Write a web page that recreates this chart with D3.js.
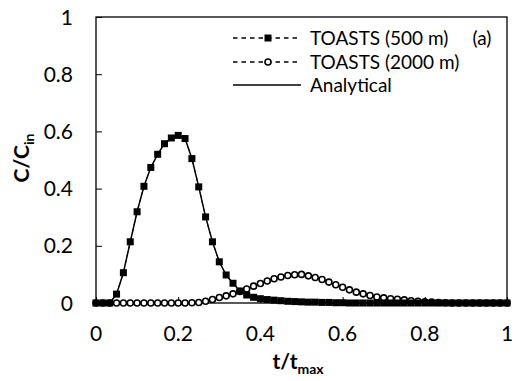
<!DOCTYPE html>
<html>
<head>
<meta charset="utf-8">
<script src="https://cdn.jsdelivr.net/npm/d3@7"></script>
<style>
  body { margin: 0; background: #fff; }
  text { font-family: Lato, "Open Sans", sans-serif; fill: #000; }
</style>
</head>
<body>
<div id="chart"></div>
<script>
// t/tmax sampled every 1/60
const tValues = d3.range(61).map(k => k / 60);

// TOASTS 500 m (squares)
const toasts500 = [0, 0, 0, 0.031, 0.106, 0.214, 0.319, 0.408, 0.474, 0.520,
    0.557, 0.577, 0.586, 0.575, 0.505, 0.406, 0.301, 0.214, 0.144, 0.098,
    0.069, 0.042, 0.028, 0.020, 0.015, 0.012, 0.010, 0.008, 0.006, 0.005,
    0.004, 0.003, 0.003, 0.002, 0.002, 0.001, 0.001, 0, 0, 0,
    0, 0, 0, 0, 0, 0, 0, 0, 0, 0,
    0, 0, 0, 0, 0, 0, 0, 0, 0, 0, 0];

// TOASTS 2000 m (circles)
const toasts2000 = [0, 0, 0, 0, 0, 0, 0, 0, 0, 0,
    0, 0, 0, 0, 0.001, 0.002, 0.006, 0.012, 0.019, 0.025,
    0.032, 0.040, 0.049, 0.059, 0.068, 0.077, 0.085, 0.091, 0.096, 0.099,
    0.100, 0.095, 0.089, 0.082, 0.073, 0.064, 0.055, 0.046, 0.038, 0.032,
    0.026, 0.021, 0.018, 0.015, 0.013, 0.011, 0.008, 0.006, 0.004, 0.003,
    0.002, 0.001, 0, 0, 0, 0, 0, 0, 0, 0, 0];

// analytical solutions (coincide with the TOASTS results)
const analytical500 = toasts500.slice();
const analytical2000 = toasts2000.slice();

const xTicks = [0, 0.2, 0.4, 0.6, 0.8, 1];
const yTicks = [0, 0.2, 0.4, 0.6, 0.8, 1];
const legendLabels = ["TOASTS (500 m)", "TOASTS (2000 m)", "Analytical"];

const W = 516, H = 381;
const margin = {top: 17, right: 9, bottom: 78, left: 96};

const svg = d3.select("#chart").append("svg")
    .attr("width", W)
    .attr("height", H);

const x = d3.scaleLinear().domain([0, 1]).range([margin.left, W - margin.right]);
const y = d3.scaleLinear().domain([0, 1]).range([H - margin.bottom, margin.top]);

// frame
svg.append("rect")
    .attr("x", x(0)).attr("y", y(1))
    .attr("width", x(1) - x(0)).attr("height", y(0) - y(1))
    .attr("fill", "none").attr("stroke", "#000").attr("stroke-width", 1.3);

// axes with inner ticks
const xAxis = svg.append("g")
    .attr("transform", `translate(0,${y(0)})`)
    .call(d3.axisTop(x).tickValues(xTicks).tickSize(6).tickFormat(""));
xAxis.select(".domain").remove();

const yAxis = svg.append("g")
    .attr("transform", `translate(${x(0)},0)`)
    .call(d3.axisRight(y).tickValues(yTicks).tickSize(6).tickFormat(""));
yAxis.select(".domain").remove();
svg.selectAll(".tick line").attr("stroke", "#000").attr("stroke-width", 1);

// tick labels
svg.selectAll(".xlab").data(xTicks).enter().append("text")
    .attr("class", "xlab")
    .attr("x", d => x(d)).attr("y", y(0) + 38)
    .attr("text-anchor", "middle")
    .style("font-size", "21px")
    .text(d => d3.format("")(d));

svg.selectAll(".ylab").data(yTicks).enter().append("text")
    .attr("class", "ylab")
    .attr("x", x(0) - 23).attr("y", d => y(d) + 7.5)
    .attr("text-anchor", "end")
    .style("font-size", "21px")
    .text(d => d3.format("")(d));

// axis titles
const xt = svg.append("text")
    .attr("x", 298).attr("y", 369)
    .attr("text-anchor", "middle")
    .style("font-size", "21px").style("font-weight", "bold");
xt.append("tspan").text("t/t");
xt.append("tspan").attr("dy", 5).style("font-size", "14px").text("max");

const yt = svg.append("text")
    .attr("transform", "translate(29,158) rotate(-90)")
    .attr("text-anchor", "middle")
    .style("font-size", "21px").style("font-weight", "bold");
yt.append("tspan").text("C/C");
yt.append("tspan").attr("dy", 5).style("font-size", "14px").text("in");

// lines
const line = d3.line().x((d, i) => x(tValues[i])).y(d => y(d));

svg.append("path").datum(analytical2000)
    .attr("d", line).attr("fill", "none").attr("stroke", "#000").attr("stroke-width", 1.5);
svg.append("path").datum(analytical500)
    .attr("d", line).attr("fill", "none").attr("stroke", "#000").attr("stroke-width", 1.5);
svg.append("path").datum(toasts2000)
    .attr("d", line).attr("fill", "none").attr("stroke", "#000")
    .attr("stroke-width", 1).attr("stroke-dasharray", "4,4");
svg.append("path").datum(toasts500)
    .attr("d", line).attr("fill", "none").attr("stroke", "#000")
    .attr("stroke-width", 1).attr("stroke-dasharray", "4,4");

// markers
svg.selectAll(".circ").data(toasts2000).enter().append("circle")
    .attr("class", "circ")
    .attr("cx", (d, i) => x(tValues[i])).attr("cy", d => y(d))
    .attr("r", 3)
    .attr("fill", "#fff").attr("stroke", "#000").attr("stroke-width", 1.6);

const sq = 7;
svg.selectAll(".sq").data(toasts500).enter().append("rect")
    .attr("class", "sq")
    .attr("x", (d, i) => x(tValues[i]) - sq / 2).attr("y", d => y(d) - sq / 2)
    .attr("width", sq).attr("height", sq)
    .attr("fill", "#000");

// legend
const lg = svg.append("g");
const rowY = [38, 62, 85];
legendLabels.forEach(function (lab, i) {
    lg.append("line")
        .attr("x1", 233).attr("x2", i < 2 ? 297 : 301)
        .attr("y1", rowY[i]).attr("y2", rowY[i])
        .attr("stroke", "#000").attr("stroke-width", i < 2 ? 1.3 : 1.5)
        .attr("stroke-dasharray", i < 2 ? "4.5,4" : null);
    lg.append("text")
        .attr("x", 310).attr("y", rowY[i] + 6.5)
        .style("font-size", "19px")
        .text(lab);
});
lg.append("rect")
    .attr("x", 268 - sq / 2).attr("y", rowY[0] - sq / 2)
    .attr("width", sq).attr("height", sq).attr("fill", "#000");
lg.append("circle")
    .attr("cx", 268).attr("cy", rowY[1]).attr("r", 3)
    .attr("fill", "#fff").attr("stroke", "#000").attr("stroke-width", 1.6);

svg.append("text")
    .attr("x", 482).attr("y", 44.5)
    .attr("text-anchor", "middle")
    .style("font-size", "19px")
    .text("(a)");
</script>
</body>
</html>
